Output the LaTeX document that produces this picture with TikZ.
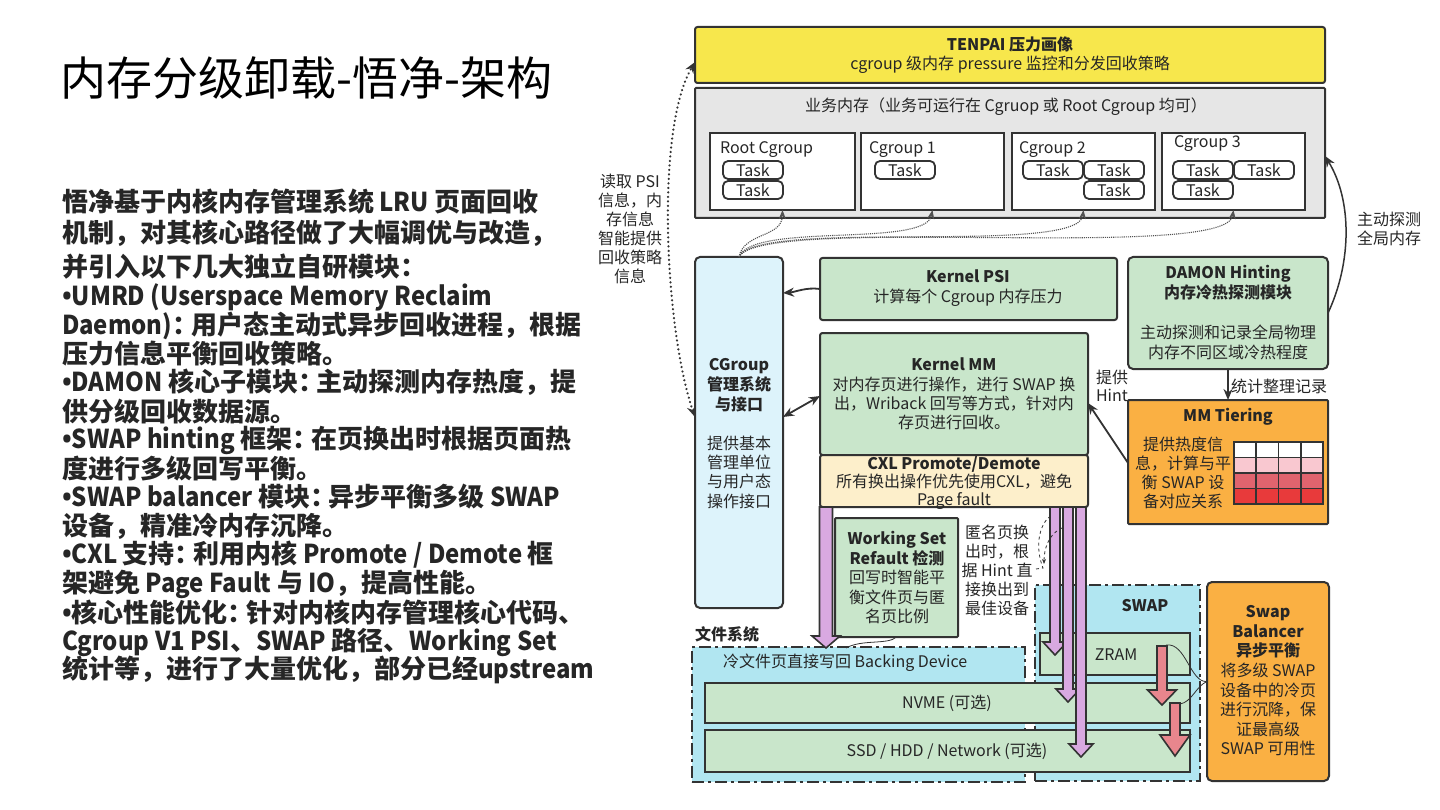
\documentclass[tikz,border=0pt]{standalone}
\usepackage{fontspec}
\setmainfont{Noto Sans CJK SC}
\newfontfamily\latn{Noto Sans CJK SC}[FakeStretch=0.92]
\newfontfamily\bulf{Open Sans}
\usetikzlibrary{arrows.meta}
\definecolor{bdr}{HTML}{333333}
\definecolor{yel}{HTML}{F7E74C}
\definecolor{gry}{HTML}{E6E6E6}
\definecolor{grn}{HTML}{C9E6CB}
\definecolor{lblue}{HTML}{DDF3FB}
\definecolor{cream}{HTML}{FDEFCB}
\definecolor{orng}{HTML}{FAB043}
\definecolor{cyanr}{HTML}{B1E6F1}
\definecolor{purp}{HTML}{D9A9E1}
\definecolor{pnk}{HTML}{E8868D}
\definecolor{txt}{HTML}{262626}
\definecolor{rowa}{HTML}{F9C8D0}
\definecolor{rowb}{HTML}{E0646E}
\definecolor{rowc}{HTML}{E83A3B}
\newcommand{\myfs}[2]{\fontsize{#1}{#2}\selectfont}
\newcommand{\la}[1]{{\latn #1}}
\newcommand{\bu}{{\bulf •}}
\newcommand{\hcol}{\makebox[0.72em][l]{：}}
% x, ytop, ytip, halfshaft, halfhead, headlen, fill
\newcommand{\fatdown}[7]{%
  \filldraw[fill=#7,draw=bdr,line width=1.6pt,line join=miter]
  (#1-#4,#2) -- (#1-#4,#3-#6) -- (#1-#5,#3-#6) -- (#1,#3) -- (#1+#5,#3-#6) -- (#1+#4,#3-#6) -- (#1+#4,#2) -- cycle;}
\begin{document}
\begin{tikzpicture}[x=1pt,y=-1pt,
  box/.style={draw=bdr,line width=2pt,rounded corners=2.5pt,inner sep=0pt,outer sep=0pt,anchor=north west},
  lbl/.style={inner sep=0pt,outer sep=0pt,text=txt,align=center,font=\myfs{16}{19.5}},
  task/.style={draw=bdr,line width=1.8pt,rounded corners=5pt,fill=white,minimum width=60pt,minimum height=18pt,inner sep=0pt,text=txt,font=\myfs{16}{16}},
  region/.style={draw=bdr,line width=2pt,fill=cyanr,dash pattern=on 12pt off 4pt on 3pt off 4pt,inner sep=0pt,outer sep=0pt,anchor=north west},
  conn/.style={draw=bdr,line width=1.8pt,-{Stealth[length=11pt,width=9pt]}},
  dots/.style={draw=bdr!85,line width=1.1pt,densely dotted,-{Stealth[length=9pt,width=7pt]}},
  lt/.style={anchor=west,inner sep=0pt,outer sep=0pt,text=txt,font=\myfs{26}{29}\bfseries},
]
\useasboundingbox (0,0) rectangle (1440,810);
\fill[white] (0,0) rectangle (1440,810);

% ---------- left side ----------
\node[anchor=west,inner sep=0pt,font=\myfs{46}{50},text=black] (title) at (60,78) {内存分级卸载-悟净-架构};
\node[lt] (l1) at (62,202) {悟净基于内核内存管理系统\la{ LRU }页面回收};
\node[lt] (l2) at (62,233) {机制，对其核心路径做了大幅调优与改造，};
\node[lt] (l3) at (62,267) {并引入以下几大独立自研模块：};
\node[lt] (l4) at (62,297) {\bu\la{UMRD (Userspace Memory Reclaim}};
\node[lt] (l5) at (62,326) {\la{Daemon)}\hcol 用户态主动式异步回收进程，根据};
\node[lt] (l6) at (62,354) {压力信息平衡回收策略。};
\node[lt] (l7) at (62,382) {\bu\la{DAMON }核心子模块\hcol 主动探测内存热度，提};
\node[lt] (l8) at (62,412) {供分级回收数据源。};
\node[lt] (l9) at (62,440) {\bu\la{SWAP hinting }框架\hcol 在页换出时根据页面热};
\node[lt] (l10) at (62,469) {度进行多级回写平衡。};
\node[lt] (l11) at (62,497) {\bu\la{SWAP balancer }模块\hcol 异步平衡多级\la{ SWAP}};
\node[lt] (l12) at (62,526) {设备，精准冷内存沉降。};
\node[lt] (l13) at (62,555) {\bu\la{CXL }支持\hcol 利用内核\la{ Promote / Demote }框};
\node[lt] (l14) at (62,584) {架避免\la{ Page Fault }与\la{ IO}，提高性能。};
\node[lt] (l15) at (62,613) {\bu 核心性能优化\hcol 针对内核内存管理核心代码、};
\node[lt] (l16) at (62,642) {\la{Cgroup V1 PSI}、\la{SWAP }路径、\la{Working Set}};
\node[lt] (l17) at (62,670) {统计等，进行了大量优化，部分已经\la{upstream}};

% ---------- top ----------
\node[box,fill=yel,minimum width=630pt,minimum height=56pt] (tenpai) at (695,27) {};
\node[lbl] (tenpaiT) at (1010,55) {\textbf{TENPAI 压力画像}\\cgroup 级内存 pressure 监控和分发回收策略};
\node[box,fill=gry,minimum width=630pt,minimum height=130pt,rounded corners=1pt] (biz) at (695,88) {};
\node[lbl] (bizT) at (1006,107) {业务内存（业务可运行在 Cgruop 或 Root Cgroup 均可）};

\node[box,fill=white,minimum width=145pt,minimum height=77pt,rounded corners=0pt] (root) at (710,133) {};
\node[box,fill=white,minimum width=143pt,minimum height=77pt,rounded corners=0pt] (cg1) at (861,133) {};
\node[box,fill=white,minimum width=143pt,minimum height=77pt,rounded corners=0pt] (cg2) at (1012,133) {};
\node[box,fill=white,minimum width=143pt,minimum height=77pt,rounded corners=0pt] (cg3) at (1162,133) {};
\node[lbl,anchor=west] (rootT) at (720,150) {Root Cgroup};
\node[lbl,anchor=west] (cg1T) at (869,150) {Cgroup 1};
\node[lbl,anchor=west] (cg2T) at (1019,150) {Cgroup 2};
\node[lbl,anchor=west] (cg3T) at (1174,144) {Cgroup 3};
\node[task] (rt1) at (753,170) {Task};
\node[task] (rt2) at (753,190) {Task};
\node[task] (c1t1) at (905,170) {Task};
\node[task] (c2t1) at (1053,170) {Task};
\node[task] (c2t2) at (1114,170) {Task};
\node[task] (c2t3) at (1114,190) {Task};
\node[task] (c3t1) at (1203,170) {Task};
\node[task] (c3t2) at (1264,170) {Task};
\node[task] (c3t3) at (1203,190) {Task};

% ---------- middle ----------
\node[box,fill=lblue,minimum width=88pt,minimum height=351pt,rounded corners=5pt] (cgsys) at (695,257) {};
\node[lbl,font=\myfs{16}{20}\bfseries] (cgsysT) at (739,385) {CGroup\\管理系统\\与接口};
\node[lbl,font=\myfs{16}{19.3}] (cgsysD) at (739,472) {提供基本\\管理单位\\与用户态\\操作接口};

\node[box,fill=grn,minimum width=297pt,minimum height=62pt] (psi) at (820,258) {};
\node[lbl,font=\myfs{16}{20}] (psiT) at (968,288) {\textbf{Kernel PSI}\\计算每个 Cgroup 内存压力};

\node[box,fill=grn,minimum width=268pt,minimum height=122pt] (mm) at (820,333) {};
\node[lbl,font=\myfs{16}{19.3}] (mmT) at (954,394) {\textbf{Kernel MM}\\对内存页进行操作，进行 SWAP 换\\出，Wriback 回写等方式，针对内\\存页进行回收。};
\node[box,fill=cream,minimum width=268pt,minimum height=52pt] (cxl) at (820,455) {};
\node[lbl,font=\myfs{16}{18}] (cxlT) at (954,483) {\textbf{CXL Promote/Demote}\\所有换出操作优先使用CXL，避免\\Page fault};

\node[box,fill=grn,minimum width=200pt,minimum height=112pt,rounded corners=5pt] (damon) at (1128,257) {};
\node[lbl,font=\myfs{16}{20}\bfseries] (damonT) at (1228,283) {DAMON Hinting\\内存冷热探测模块};
\node[lbl,font=\myfs{16}{20}] (damonD) at (1228,342) {主动探测和记录全局物理\\内存不同区域冷热程度};

\node[box,fill=orng,minimum width=200pt,minimum height=124pt,rounded corners=1pt] (tier) at (1128,400) {};
\node[lbl,font=\myfs{16}{20}\bfseries] (tierT) at (1228,417) {MM Tiering};
\node[lbl,font=\myfs{16}{19}] (tierD) at (1183,473) {提供热度信\\息，计算与平\\衡 SWAP 设\\备对应关系};
\foreach \r/\c in {0/white,1/rowa,2/rowb,3/rowc}{
  \foreach \k in {0,...,3}{
    \filldraw[fill=\c,draw=bdr,line width=1.6pt] ({1234+\k*22.25},{442+\r*15.5}) rectangle ++(22.25,15.5);
  }
}

% ---------- bottom ----------
\node[region,minimum width=333pt,minimum height=135pt] (fsreg) at (692,647) {};
\node[region,minimum width=165pt,minimum height=196pt] (swapreg) at (1035,585) {};
\node[lbl,anchor=west,font=\myfs{16}{19}\bfseries] (fsT) at (695,634) {文件系统};
\node[lbl,anchor=west] (fsD) at (723,663) {冷文件页直接写回 Backing Device};
\node[lbl,font=\myfs{16}{19}\bfseries] (swapT) at (1145,606) {SWAP};

\node[box,fill=grn,minimum width=150pt,minimum height=42pt,rounded corners=0pt] (zram) at (1040,633) {};
\node[lbl] (zramT) at (1116,655) {ZRAM};
\node[box,fill=grn,minimum width=485pt,minimum height=40pt,rounded corners=0pt] (nvme) at (705,683) {};
\node[lbl] (nvmeT) at (947,703) {NVME (可选)};
\node[box,fill=grn,minimum width=485pt,minimum height=42pt,rounded corners=0pt] (ssd) at (705,730) {};
\node[lbl] (ssdT) at (947,751) {SSD / HDD / Network (可选)};

\node[box,fill=grn,minimum width=123pt,minimum height=119pt,rounded corners=1pt] (ws) at (835,518) {};
\node[lbl,font=\myfs{16}{19.5}] (wsT) at (897,578) {\textbf{Working Set}\\\textbf{Refault 检测}\\回写时智能平\\衡文件页与匿\\名页比例};
\node[lbl,font=\myfs{16}{19}] (anonT) at (997,570) {匿名页换\\出时，根\\据 Hint 直\\接换出到\\最佳设备};

\node[box,fill=orng,minimum width=122pt,minimum height=199pt,rounded corners=5pt] (sbal) at (1207,582) {};
\node[lbl,font=\myfs{16}{19.6}] (sbalT) at (1268,681) {\textbf{Swap}\\\textbf{Balancer}\\\textbf{异步平衡}\\将多级 SWAP\\设备中的冷页\\进行沉降，保\\证最高级\\SWAP 可用性};

% fat arrows
\fatdown{826}{507}{648}{6.5}{14}{12}{purp}
\fatdown{1055}{507}{655}{5}{12}{13}{purp}
\fatdown{1068}{507}{702}{5}{12}{13}{purp}
\fatdown{1081}{507}{757}{5}{12}{13}{purp}
\fatdown{1162}{646}{705}{5}{14.5}{15}{pnk}
\fatdown{1175}{703}{756}{5}{15}{21}{pnk}

% callout lines
\draw[bdr,line width=0.8pt] (sbal.west) .. controls (1190,683) and (1186,642) .. (1166,645);
\draw[bdr,line width=0.8pt] (sbal.west) .. controls (1196,686) and (1192,702) .. (1180,704);
\draw[bdr,line width=0.8pt] (ws.south) .. controls (888,645) and (862,639) .. (846,648);
\coordinate (hintA) at (1036,569);
\draw[bdr,line width=0.8pt,dashed] (hintA) -- (1043,568) .. controls (1034,545) and (1040,522) .. (1052,515);
\draw[bdr,line width=0.8pt,dashed,-{Stealth[length=5pt,width=4pt]}] (1062,528) .. controls (1048,534) and (1044,550) .. (1044,564);

% ---------- connectors ----------
\node[lbl,font=\myfs{16}{19}] (psiNote) at (630,229) {读取 PSI\\信息，内\\存信息\\智能提供\\回收策略\\信息};
\draw[bdr,line width=2.4pt,line cap=round,dash pattern=on 0.1pt off 4.4pt,{Stealth[length=11pt,width=9pt]}-{Stealth[length=11pt,width=9pt]}]
  ([yshift=-160pt]cgsys.north west) .. controls (665,330) and (655,130) .. ([yshift=-7pt]tenpai.west);

\draw[dots] (cgsys.north) .. controls (744,232) and (782,238) .. (root.south);
\draw[dots] (cgsys.north) .. controls (752,222) and (925,248) .. (cg1.south);
\draw[dots] (cgsys.north) .. controls (756,218) and (1078,256) .. (cg2.south);
\draw[dots] (cgsys.north) .. controls (760,214) and (1226,262) .. (cg3.south);

\draw[conn] (psi.west) .. controls (806,287) and (796,292) .. ([yshift=-36pt]cgsys.north east);
\draw[draw=bdr,line width=1.8pt,{Stealth[length=11pt,width=9pt]}-{Stealth[length=11pt,width=9pt]}]
  ([yshift=-160pt]cgsys.north east) -- ([yshift=-63pt]mm.north west);

\draw[conn,line width=1.5pt] (damon.east) .. controls (1352,262) and (1352,200) .. ([yshift=-3pt]biz.east);
\node[lbl,anchor=west,align=left,font=\myfs{16}{19}] (probeT) at (1357,229) {主动探测\\全局内存};

\draw[conn] (damon.south) -- (tier.north);
\node[lbl] (statT) at (1279,386) {统计整理记录};

\draw[conn] ([yshift=-63pt]tier.north west) -- ([yshift=-70pt]mm.north east);
\node[lbl,align=left,font=\myfs{16}{18}] (hintT) at (1112,386) {提供\\Hint};

\end{tikzpicture}
\end{document}
